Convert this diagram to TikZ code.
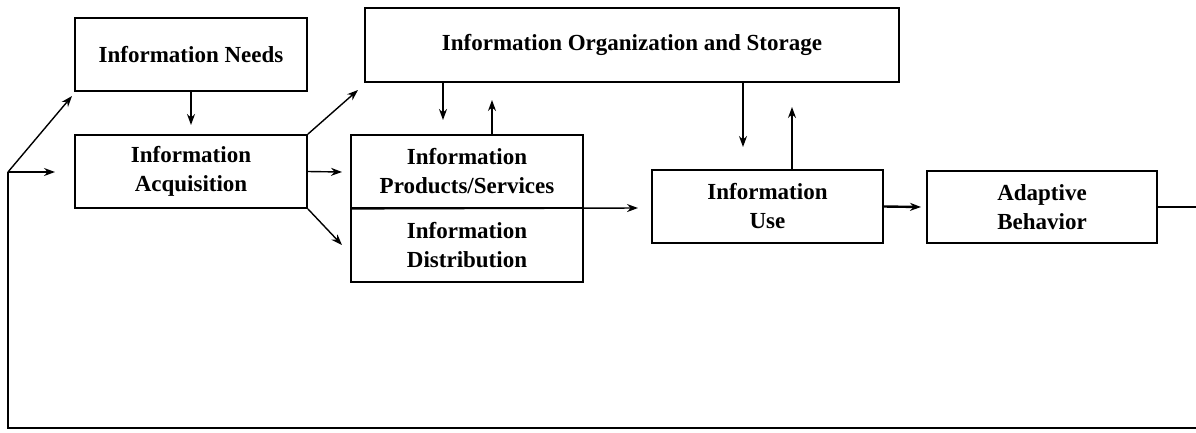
\documentclass[tikz,border=0pt]{standalone}
\usepackage{fontspec}
\setmainfont{Liberation Serif}
\usetikzlibrary{arrows.meta}
\begin{document}
\begin{tikzpicture}[x=1pt,y=-1pt,
  box/.style={draw,line width=1.8pt,align=center,inner sep=0pt,
    font=\fontsize{23}{29}\selectfont\bfseries},
  arr/.style={line width=1.4pt,-{Stealth[length=11pt,width=8pt]}},
  link/.style={line width=1.4pt}]
\useasboundingbox (0,0) rectangle (1196,432);
\clip (0,0) rectangle (1196,432);

% boxes
\node[box,minimum width=232pt,minimum height=73pt] (needs) at (191,54.5) {Information Needs};
\node[box,minimum width=232pt,minimum height=73pt] (acq) at (191,171.5) {Information\\Acquisition};
\node[box,minimum width=534pt,minimum height=74pt] (org) at (632,45) {Information Organization and Storage};
\node[box,minimum width=232pt,minimum height=73pt] (ps) at (467,171.5) {Information\\Products/Services};
\node[box,minimum width=232pt,minimum height=74pt] (dist) at (467,245) {Information\\Distribution};
\node[box,minimum width=231pt,minimum height=73pt] (use) at (767.5,206.5) {Information\\Use};
\node[box,minimum width=230pt,minimum height=72pt] (ad) at (1042,207) {Adaptive\\Behavior};

% free ends of the connectors
\coordinate (loop) at (8,172);
\coordinate (toacq) at (55,172);
\coordinate (toneeds) at (72,96);
\coordinate (needsdown) at (191,125);
\coordinate (toorg) at (358,90);
\coordinate (tops) at (342,172);
\coordinate (todist) at (342,245);
\coordinate (orgdownA) at (443,120);
\coordinate (psup) at (492,100);
\coordinate (orgdownB) at (743,147);
\coordinate (useup) at (792,107);
\coordinate (touse) at (638,208);
\coordinate (toad) at (921,207);
\coordinate (r1) at (1200,207);
\coordinate (r2) at (1200,428);
\coordinate (l2) at (8,428);

% connectors
\draw[arr] (needs.south) -- (needsdown);
\draw[arr] (loop) -- (toacq);
\draw[arr] (loop) -- (toneeds);
\draw[arr] (acq.east) -- (tops);
\draw[arr] (acq.north east) -- (toorg);
\draw[arr] (acq.south east) -- (todist);
\draw[arr] (orgdownA |- org.south) -- (orgdownA);
\draw[arr] (psup |- ps.north) -- (psup);
\draw[arr] (orgdownB |- org.south) -- (orgdownB);
\draw[arr] (useup |- use.north) -- (useup);
\draw[arr] (ps.south west) -- (touse);
\draw[arr,line width=2.4pt] (use.east) -- (toad);
\draw[link] (ad.east) -- (r1) -- (r2) -- (l2) -- (loop);
\end{tikzpicture}
\end{document}
